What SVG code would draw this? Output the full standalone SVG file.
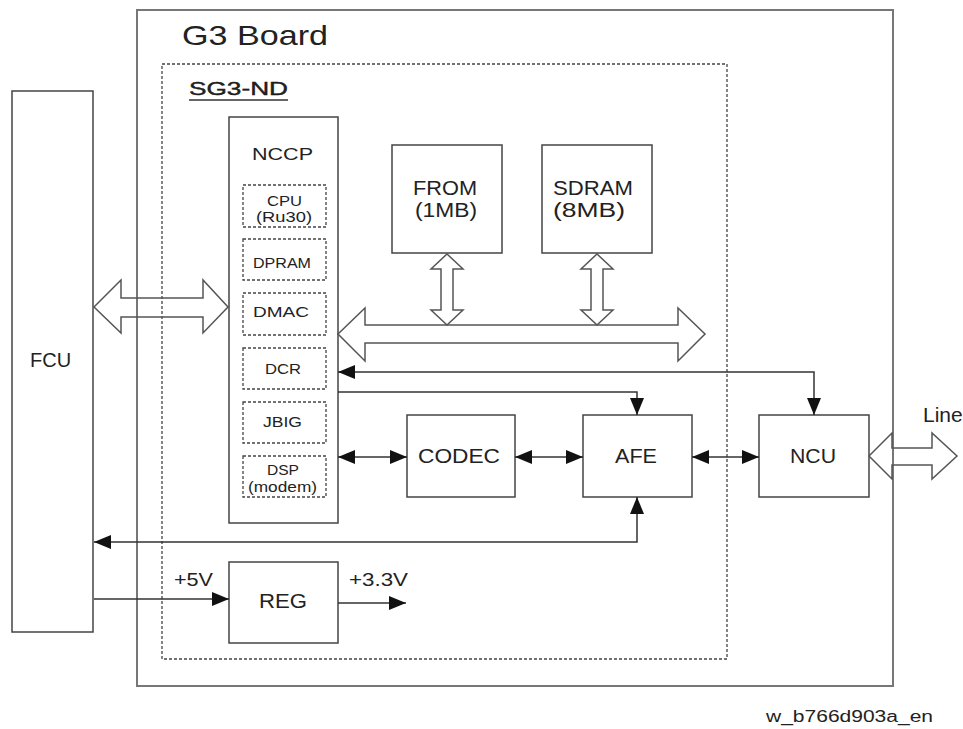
<svg xmlns="http://www.w3.org/2000/svg" width="963" height="729" viewBox="0 0 963 729">
<style>
text{font-family:"Liberation Sans",Arial,sans-serif;fill:#222}
.box{fill:#fff;stroke:#444;stroke-width:1.5}
.dbox{fill:none;stroke:#444;stroke-width:1.3;stroke-dasharray:3 2}
.board{fill:none;stroke:#777;stroke-width:2}
.ln{fill:none;stroke:#333;stroke-width:1.5}
.hol{fill:#fff;stroke:#555;stroke-width:1.5}
.holn{fill:none;stroke:#555;stroke-width:1.5}
.t20{font-size:20px}
.t14{font-size:15px}
.t18{font-size:18px}
</style>
<defs>
<marker id="ah" markerUnits="userSpaceOnUse" markerWidth="17" markerHeight="14" refX="17" refY="7" orient="auto-start-reverse" viewBox="0 0 17 14"><path d="M0,0 L17,7 L0,14 z" fill="#111"/></marker>
</defs>
<rect id="board" class="board" x="137" y="10" width="756" height="676"/>
<text x="182" y="45" font-size="28" textLength="146" lengthAdjust="spacingAndGlyphs">G3 Board</text>
<g id="sg3nd">
<rect class="dbox" x="162" y="64" width="565" height="595"/>
<text x="189" y="95" font-size="19" fill="#111" stroke="#111" stroke-width="0.4" textLength="99" lengthAdjust="spacingAndGlyphs">SG3-ND</text>
<line x1="189" y1="100" x2="288" y2="100" stroke="#333" stroke-width="1.5"/>
</g>
<g id="fcu"><rect class="box" x="12" y="91" width="81" height="541"/><text class="t20" x="30" y="367">FCU</text></g>
<g id="nccp">
<rect class="box" x="229" y="117" width="109" height="406"/>
<text x="252" y="160" font-size="16" textLength="61" lengthAdjust="spacingAndGlyphs">NCCP</text>
<rect class="dbox" x="243" y="185" width="83" height="42"/>
<text class="t14" x="267" y="206" textLength="35" lengthAdjust="spacingAndGlyphs">CPU</text>
<text class="t14" x="256" y="222" textLength="56" lengthAdjust="spacingAndGlyphs">(Ru30)</text>
<rect class="dbox" x="243" y="239" width="83" height="41"/>
<text class="t14" x="253" y="268" textLength="58" lengthAdjust="spacingAndGlyphs">DPRAM</text>
<rect class="dbox" x="243" y="293" width="83" height="42"/>
<text class="t14" x="253" y="317" textLength="56" lengthAdjust="spacingAndGlyphs">DMAC</text>
<rect class="dbox" x="243" y="348" width="83" height="41"/>
<text class="t14" x="265" y="374" textLength="36" lengthAdjust="spacingAndGlyphs">DCR</text>
<rect class="dbox" x="243" y="402" width="83" height="41"/>
<text class="t14" x="263" y="427" textLength="39" lengthAdjust="spacingAndGlyphs">JBIG</text>
<rect class="dbox" x="243" y="456" width="83" height="41"/>
<text class="t14" x="267" y="475" textLength="32" lengthAdjust="spacingAndGlyphs">DSP</text>
<text class="t14" x="248" y="492" textLength="69" lengthAdjust="spacingAndGlyphs">(modem)</text>
</g>
<g id="from"><rect class="box" x="392" y="145" width="110" height="108"/>
<text class="t20" x="413" y="195" textLength="64" lengthAdjust="spacingAndGlyphs">FROM</text>
<text class="t20" x="415" y="217" textLength="62" lengthAdjust="spacingAndGlyphs">(1MB)</text></g>
<g id="sdram"><rect class="box" x="542" y="145" width="110" height="108"/>
<text class="t20" x="553" y="195" textLength="80" lengthAdjust="spacingAndGlyphs">SDRAM</text>
<text class="t20" x="553" y="217" textLength="72" lengthAdjust="spacingAndGlyphs">(8MB)</text></g>
<g id="codec"><rect class="box" x="407" y="415" width="108" height="82"/>
<text class="t20" x="418" y="463" textLength="82" lengthAdjust="spacingAndGlyphs">CODEC</text></g>
<g id="afe"><rect class="box" x="583" y="415" width="109" height="82"/>
<text class="t20" x="615" y="463" textLength="42" lengthAdjust="spacingAndGlyphs">AFE</text></g>
<g id="ncu"><rect class="box" x="759" y="415" width="110" height="82"/>
<text class="t20" x="790" y="463" textLength="46" lengthAdjust="spacingAndGlyphs">NCU</text></g>
<g id="reg"><rect class="box" x="229" y="562" width="109" height="81"/>
<text class="t20" x="259" y="608" textLength="48" lengthAdjust="spacingAndGlyphs">REG</text></g>
<g id="connectors">
<polygon class="holn" points="94,307 121,280 121,298 203,298 203,280 228,307 203,333 203,317 121,317 121,333"/>
<polygon class="hol" points="338,334 365,308 365,325 678,325 678,308 705,334 678,361 678,343 365,343 365,361"/>
<polygon class="hol" points="447,254 463,269 453,269 453,310 463,310 447,325 431,310 441,310 441,269 431,269"/>
<polygon class="hol" points="597,254 613,269 603,269 603,310 613,310 597,325 581,310 591,310 591,269 581,269"/>
<polygon class="holn" points="869,456 892,433 892,448 932,448 932,433 957,456 932,479 932,465 892,465 892,479"/>
<path class="ln" d="M338,372 H814 V415" marker-start="url(#ah)" marker-end="url(#ah)"/>
<path class="ln" d="M338,392 H637 V415" marker-end="url(#ah)"/>
<path class="ln" d="M338,457 H407" marker-start="url(#ah)" marker-end="url(#ah)"/>
<path class="ln" d="M515,457 H583" marker-start="url(#ah)" marker-end="url(#ah)"/>
<path class="ln" d="M692,457 H759" marker-start="url(#ah)" marker-end="url(#ah)"/>
<path class="ln" d="M637,497 V542 H94" marker-start="url(#ah)" marker-end="url(#ah)"/>
<path class="ln" d="M94,599 H229" marker-end="url(#ah)"/>
<path class="ln" d="M338,603 H406" marker-end="url(#ah)"/>
</g>
<text x="923" y="422" font-size="21">Line</text>
<text class="t18" x="174" y="586" textLength="39" lengthAdjust="spacingAndGlyphs">+5V</text>
<text class="t18" x="349" y="586" textLength="59" lengthAdjust="spacingAndGlyphs">+3.3V</text>
<text x="766" y="722" font-size="16" textLength="167" lengthAdjust="spacingAndGlyphs">w_b766d903a_en</text>
</svg>
